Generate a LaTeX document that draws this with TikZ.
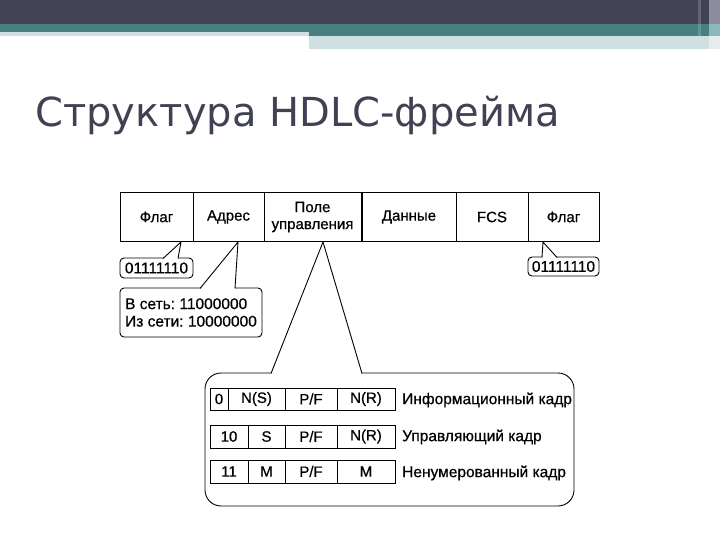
\documentclass[tikz,border=0pt]{standalone}
\usepackage{fontspec}
\setmainfont[FakeBold=0.6]{Liberation Sans}
\newfontfamily\titlefont{DejaVu Sans}
\frenchspacing
\begin{document}
\begin{tikzpicture}[x=1pt,y=-1pt,
  cell/.style={draw, line width=0.9pt, minimum height=0pt, inner sep=0pt, font=\fontsize{15}{17}\selectfont},
  callbox/.style={draw, line width=0.9pt, rounded corners=4pt, inner sep=0pt, font=\fontsize{15.5}{17.5}\selectfont},
  lbl/.style={anchor=west, inner sep=0pt, font=\fontsize{15.5}{17}\selectfont},
  ptr/.style={line width=0.9pt, line join=round}]
\useasboundingbox (0,0) rectangle (720,540);
\fill[white] (0,0) rectangle (720,540);
% header
\fill[fill={rgb,255:red,66;green,66;blue,86}] (0,0) rectangle (720,24);
\fill[fill={rgb,255:red,74;green,127;blue,130}] (0,24) rectangle (720,32);
\fill[fill={rgb,255:red,74;green,127;blue,130}] (309,32) rectangle (720,36);
\fill[fill={rgb,255:red,208;green,223;blue,226}] (0,32) rectangle (309,36);
\fill[fill={rgb,255:red,208;green,223;blue,226}] (309,36) rectangle (720,49);
\fill[fill={rgb,255:red,140;green,140;blue,158}] (709,0) rectangle (720,24);
\fill[fill={rgb,255:red,140;green,184;blue,186}] (709,24) rectangle (720,36);
\fill[fill={rgb,255:red,228;green,236;blue,238}] (709,36) rectangle (720,49);
\fill[fill={rgb,255:red,100;green,100;blue,118}] (698,0) rectangle (701,24);
\fill[fill={rgb,255:red,100;green,150;blue,152}] (698,24) rectangle (701,36);
% title
\node[anchor=base west, inner sep=0pt, text={rgb,255:red,64;green,65;blue,82}, font=\titlefont\fontsize{40}{44}\selectfont] (title) at (35,127) {Структура HDLC-фрейма};
% frame
\node[cell, minimum width=73pt, minimum height=49pt] (f1) at (156.5,217) {Флаг};
\node[cell, minimum width=71pt, minimum height=49pt] (f2) at (228.5,217) {Адрес};
\node[cell, minimum width=97pt, minimum height=49pt, align=center, font=\fontsize{15}{17}\selectfont] (f3) at (312.5,217) {Поле\\управления};
\node[cell, minimum width=94pt, minimum height=49pt] (f4) at (409,217) {Данные};
\node[cell, minimum width=72pt, minimum height=49pt] (f5) at (492,217) {FCS};
\node[cell, minimum width=71pt, minimum height=49pt] (f6) at (563.5,217) {Флаг};
% callout 1
\node[callbox, minimum width=73pt, minimum height=20pt] (c1) at (156.5,268) {01111110};
\coordinate (t1) at (181,242);
\fill[white] (163,259) -- (t1) -- (178,259) -- cycle;
\draw[ptr] (163,258.5) -- (t1) -- (178,258.5);
% callout 2
\node[callbox, minimum width=142pt, minimum height=49pt, align=left] (c2) at (191,312.5) {В сеть: 11000000\\Из сети: 10000000};
\coordinate (t2) at (238,242);
\fill[white] (200,289) -- (t2) -- (235,289) -- cycle;
\draw[ptr] (200,288.5) -- (t2) -- (235,288.5);
% callout 3
\node[callbox, minimum width=71pt, minimum height=19pt] (c3) at (563.5,266.5) {01111110};
\coordinate (t3) at (543,242);
\fill[white] (542,258) -- (t3) -- (557,258) -- cycle;
\draw[ptr] (542,257.5) -- (t3) -- (557,257.5);
% big callout
\node[draw, line width=0.9pt, rounded corners=16pt, minimum width=369pt, minimum height=133pt, inner sep=0pt] (big) at (389.5,439.5) {};
\coordinate (t4) at (323,242);
\fill[white] (271,374.5) -- (t4) -- (362,374.5) -- cycle;
\draw[ptr] (271,373.5) -- (t4) -- (362,373.5);
% row 1
\node[cell, minimum width=18pt, minimum height=22pt] (r1a) at (219,399) {0};
\node[cell, minimum width=57pt, minimum height=22pt] (r1b) at (256.5,399) {N(S)};
\node[cell, minimum width=52pt, minimum height=22pt] (r1c) at (311,399) {P/F};
\node[cell, minimum width=58pt, minimum height=22pt] (r1d) at (366,399) {N(R)};
\node[lbl] (l1) at (402,400) {Информационный кадр};
% row 2
\node[cell, minimum width=38pt, minimum height=23pt] (r2a) at (229,436.5) {10};
\node[cell, minimum width=37pt, minimum height=23pt] (r2b) at (266.5,436.5) {S};
\node[cell, minimum width=52pt, minimum height=23pt] (r2c) at (311,436.5) {P/F};
\node[cell, minimum width=58pt, minimum height=23pt] (r2d) at (366,436.5) {N(R)};
\node[lbl] (l2) at (402,437) {Управляющий кадр};
% row 3
\node[cell, minimum width=38pt, minimum height=23pt] (r3a) at (229,471.5) {11};
\node[cell, minimum width=37pt, minimum height=23pt] (r3b) at (266.5,471.5) {M};
\node[cell, minimum width=52pt, minimum height=23pt] (r3c) at (311,471.5) {P/F};
\node[cell, minimum width=58pt, minimum height=23pt] (r3d) at (366,471.5) {M};
\node[lbl] (l3) at (402,473) {Ненумерованный кадр};
\end{tikzpicture}
\end{document}
